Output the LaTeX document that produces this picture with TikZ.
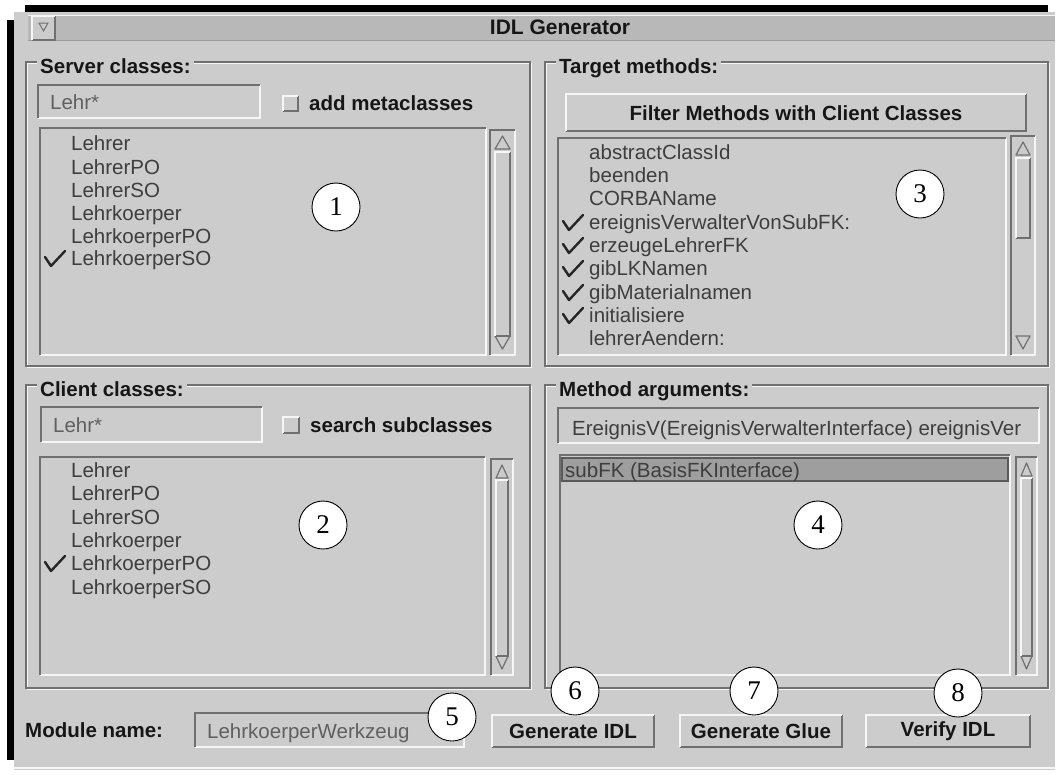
\documentclass[tikz,border=0pt]{standalone}
\usepackage{fontspec}
\setmainfont{Liberation Sans}
\newfontfamily\numfont{Liberation Serif}
\definecolor{win}{RGB}{204,204,204}
\definecolor{titlebar}{RGB}{184,184,184}
\definecolor{edgedark}{RGB}{112,112,112}
\definecolor{edgelight}{RGB}{246,246,246}
\definecolor{itemtext}{RGB}{62,62,62}
\definecolor{fieldtext}{RGB}{96,96,96}
\definecolor{labeltext}{RGB}{22,22,22}
\definecolor{selbar}{RGB}{158,158,158}

% sunken and raised 3D boxes: x1 y1 x2 y2
\newcommand{\beveldown}[4]{%
  \fill[win] (#1,#2) rectangle (#3,#4);
  \draw[lightedge] (#3,#2) -- (#3,#4) -- (#1,#4);
  \draw[darkedge] (#1,#4) -- (#1,#2) -- (#3,#2);
}
\newcommand{\bevelup}[4]{%
  \fill[win] (#1,#2) rectangle (#3,#4);
  \draw[darkedge] (#3,#2) -- (#3,#4) -- (#1,#4);
  \draw[lightedge] (#1,#4) -- (#1,#2) -- (#3,#2);
}
% etched group frame: x1 y1 x2 y2
\newcommand{\groupframe}[4]{%
  \draw[draw=edgelight, line width=1.3pt] (#1+1.5,#2+1.5) rectangle (#3+1.5,#4+1.5);
  \draw[draw=edgedark, line width=1.3pt] (#1,#2) rectangle (#3,#4);
}
% vertical scrollbar: x1 y1 x2 y2, slider top, slider bottom
\newcommand{\vscroll}[6]{%
  \beveldown{#1}{#2}{#3}{#4}
  \draw[draw=edgedark, line width=1.2pt, line join=round]
    (#1+5,#2+19) -- (#3-5,#2+19) -- ({(#1+#3)/2},#2+6) -- cycle;
  \draw[draw=edgedark, line width=1.2pt, line join=round]
    (#1+5,#4-19) -- (#3-5,#4-19) -- ({(#1+#3)/2},#4-6) -- cycle;
  \bevelup{#1+5}{#5}{#3-5}{#6}
}

\begin{document}
\begin{tikzpicture}[x=1pt,y=-1pt,
  item/.style={anchor=base west, inner sep=0pt, text=itemtext,
    font=\fontsize{20.5}{24}\selectfont},
  fieldtxt/.style={item, text=fieldtext},
  grouplabel/.style={anchor=base west, inner xsep=3pt, inner ysep=2pt, fill=win,
    text=labeltext, font=\bfseries\fontsize{20.5}{24}\selectfont},
  plainlabel/.style={anchor=base west, inner sep=0pt, text=labeltext,
    font=\bfseries\fontsize{20.5}{24}\selectfont},
  btntxt/.style={inner sep=0pt, text=labeltext, font=\bfseries\fontsize{20.5}{24}\selectfont},
  callout/.style={circle, draw=black, line width=0.9pt, fill=white, minimum size=48pt,
    inner sep=0pt, font=\numfont\fontsize{27}{27}\selectfont},
  checkmark/.style={draw=black!85, line width=2.4pt, line join=round, line cap=round},
  darkedge/.style={draw=edgedark, line width=2pt},
  lightedge/.style={draw=edgelight, line width=2pt},
]
\useasboundingbox (0,0) rectangle (1059,774);
\fill[white] (0,0) rectangle (1059,774);

% window body, shadow bars and title bar
\fill[win] (14,12) rectangle (1055,770);
\draw[draw=edgelight, line width=1.5pt] (14,768) -- (1055,768);
\fill[black] (7,20) rectangle (14,760);
\fill[black] (25,5) rectangle (1048,12);
\fill[titlebar] (28,15) rectangle (1055,40);
\draw[draw=edgelight, line width=1pt] (28,15.5) -- (1055,15.5);
\draw[draw=edgedark!70, line width=1pt] (28,40) -- (1055,40);
\bevelup{32}{16}{55}{40}
\draw[draw=edgedark, line width=1pt] (39,23) -- (48,23) -- (43.5,31) -- cycle;
\node[btntxt, font=\bfseries\fontsize{21}{24}\selectfont] (title) at (560,27.5) {IDL Generator};

% ---------- Server classes ----------
\groupframe{26}{62}{530}{366}
\node[grouplabel] (srvlabel) at (37,73) {Server classes:};
\beveldown{38}{85}{260}{118}
\node[fieldtxt] (srvfilter) at (50,109) {Lehr*};
\bevelup{283}{96}{298}{111}
\node[plainlabel] (srvmeta) at (309,110) {add metaclasses};
\beveldown{40}{128}{486}{355}
\vscroll{490}{130}{515}{355}{152}{336}
\foreach \t/\y/\n in {Lehrer/143/s1, LehrerPO/167/s2, LehrerSO/190/s3,
    Lehrkoerper/213/s4, LehrkoerperPO/236/s5, LehrkoerperSO/258/s6}
  \node[item] (\n) at (71,\y+7) {\t};
\draw[checkmark] (45,257) -- (51,266) -- (65,251);

% ---------- Target methods ----------
\groupframe{545}{62}{1048}{366}
\node[grouplabel] (tgtlabel) at (556,73) {Target methods:};
\bevelup{566}{94}{1026}{131}
\node[btntxt] (filterbtn) at (796,113) {Filter Methods with Client Classes};
\beveldown{558}{138}{1006}{355}
\vscroll{1011}{136}{1035}{355}{158}{238}
\foreach \t/\y/\n in {abstractClassId/152/m1, beenden/175/m2, CORBAName/198/m3,
    ereignisVerwalterVonSubFK:/222/m4, erzeugeLehrerFK/245/m5, gibLKNamen/268/m6,
    gibMaterialnamen/292/m7, initialisiere/315/m8, lehrerAendern:/338/m9}
  \node[item] (\n) at (589,\y+7) {\t};
\foreach \y in {222,245,268,292,315}
  \draw[checkmark] (563,\y-1) -- (569,\y+8) -- (583,\y-7);

% ---------- Client classes ----------
\groupframe{26}{385}{530}{688}
\node[grouplabel] (clilabel) at (37,396) {Client classes:};
\beveldown{41}{407}{262}{442}
\node[fieldtxt] (clifilter) at (53,432) {Lehr*};
\bevelup{283}{417}{299}{433}
\node[plainlabel] (clisub) at (310,432) {search subclasses};
\beveldown{40}{457}{485}{675}
\vscroll{491}{459}{513}{675}{480}{656}
\foreach \t/\y/\n in {Lehrer/470/c1, LehrerPO/493/c2, LehrerSO/517/c3,
    Lehrkoerper/540/c4, LehrkoerperPO/563/c5, LehrkoerperSO/587/c6}
  \node[item] (\n) at (71,\y+7) {\t};
\draw[checkmark] (45,562) -- (51,571) -- (65,556);

% ---------- Method arguments ----------
\groupframe{545}{385}{1048}{688}
\node[grouplabel] (arglabel) at (556,396) {Method arguments:};
\beveldown{558}{408}{1039}{443}
\begin{scope}
  \clip (560,410) rectangle (1037,441);
  \node[item] (argfield) at (572,435) {EreignisV(EreignisVerwalterInterface) ereignisVer};
\end{scope}
\beveldown{560}{455}{1010}{675}
\vscroll{1016}{457}{1037}{675}{478}{656}
\filldraw[fill=selbar, draw=edgedark!80!black, line width=1.5pt] (562,458) rectangle (1008,481);
\node[item] (argsel) at (565,477) {subFK (BasisFKInterface)};

% ---------- bottom row ----------
\node[plainlabel] (modlabel) at (25,737) {Module name:};
\beveldown{195}{713}{464}{747}
\node[fieldtxt] (modfield) at (207,738) {LehrkoerperWerkzeug};
\bevelup{492}{715}{654}{747}
\node[btntxt] (genidl) at (573,731) {Generate IDL};
\bevelup{680}{715}{842}{747}
\node[btntxt] (genglue) at (761,731) {Generate Glue};
\bevelup{866}{715}{1030}{747}
\node[btntxt] (verify) at (948,731) {Verify IDL};

% ---------- numbered callouts ----------
\node[callout] (n1) at (336,207) {1};
\node[callout] (n2) at (323,525) {2};
\node[callout] (n3) at (920,194) {3};
\node[callout] (n4) at (818,525) {4};
\node[callout] (n5) at (452,717) {5};
\node[callout] (n6) at (575,691) {6};
\node[callout] (n7) at (754,691) {7};
\node[callout] (n8) at (958,693) {8};
\end{tikzpicture}
\end{document}
